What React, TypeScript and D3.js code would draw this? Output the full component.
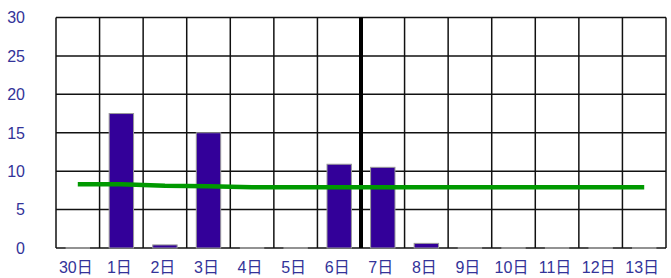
import * as React from 'react'
import * as d3 from 'd3'

const width = 671
const height = 278
const margin = { top: 17.5, right: 5, bottom: 30, left: 56 }
const barColor = '#330099'
const lineColor = '#009900'
const labelColor = '#333399'

const days = ['30日', '1日', '2日', '3日', '4日', '5日', '6日', '7日', '8日', '9日', '10日', '11日', '12日', '13日']
const counts = [0, 17.5, 0.4, 15, 0, 0, 10.9, 10.5, 0.6, 0, 0, 0, 0, 0]
const average = [8.3, 8.3, 8.1, 8.05, 7.9, 7.9, 7.9, 7.9, 7.9, 7.9, 7.9, 7.9, 7.9, 7.9]
const yTicks = [0, 5, 10, 15, 20, 25, 30]
const weekSplit = '7日'

const App = () => {
  const xScale = d3
    .scaleBand()
    .domain(days)
    .range([margin.left, width - margin.right])
  const yScale = d3
    .scaleLinear()
    .domain([0, 30])
    .range([height - margin.bottom, margin.top])

  const bw = xScale.bandwidth()
  const barW = bw * 0.56
  const y0 = yScale(0)

  const avgLine = d3
    .line<number>()
    .x((_, i) => xScale(days[i])! + bw / 2)
    .y(d => yScale(d))

  return (
    <svg width={width} height={height} style={{ position: 'absolute', left: 0, top: 0 }}>
      <rect width={width} height={height} fill="#fff" />
      {/* grid */}
      {yTicks.map(t => (
        <line key={'h' + t} x1={margin.left} x2={width - margin.right} y1={yScale(t)} y2={yScale(t)} stroke="#111" strokeWidth={1.5} />
      ))}
      {days.map(d => (
        <line
          key={'v' + d}
          x1={xScale(d)}
          x2={xScale(d)}
          y1={yScale(30)}
          y2={y0}
          stroke={d === weekSplit ? '#000' : '#111'}
          strokeWidth={d === weekSplit ? 4 : 1.5}
        />
      ))}
      <line x1={width - margin.right} x2={width - margin.right} y1={yScale(30)} y2={y0} stroke="#111" strokeWidth={1.5} />

      {/* bars */}
      {days.map((d, i) => {
        const x = xScale(d)! + (bw - barW) / 2
        return counts[i] > 0 ? (
          <rect key={'b' + d} x={x} y={yScale(counts[i])} width={barW} height={y0 - yScale(counts[i])} fill={barColor} stroke="#999" strokeWidth={1} />
        ) : (
          <line key={'b' + d} x1={x} x2={x + barW} y1={y0} y2={y0} stroke="#aaa" strokeWidth={1.5} />
        )
      })}

      <path d={avgLine(average)!} fill="none" stroke={lineColor} strokeWidth={4.5} />

      {/* labels */}
      <g fontFamily="'Liberation Sans', 'Noto Sans CJK JP', sans-serif" fontSize={16} fill={labelColor}>
        {yTicks.map(t => (
          <text key={'yl' + t} x={25} y={yScale(t)} dy="0.36em" textAnchor="end">
            {t}
          </text>
        ))}
        {days.map(d => (
          <text key={'xl' + d} x={xScale(d)! + bw / 2 - 2} y={273} textAnchor="middle">
            {d}
          </text>
        ))}
      </g>
    </svg>
  )
}

export default App
